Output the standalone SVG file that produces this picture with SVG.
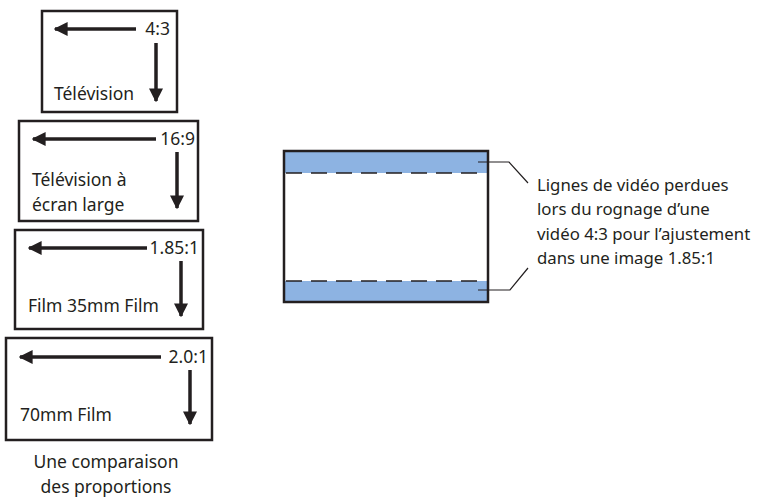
<svg xmlns="http://www.w3.org/2000/svg" width="773" height="504" viewBox="0 0 773 504">
<defs>
<marker id="ah" viewBox="0 0 10 10" refX="9" refY="5" markerWidth="4" markerHeight="4.4" orient="auto" markerUnits="strokeWidth"><path d="M0,0L10,5L0,10z" fill="#231f20"/></marker>
<style>
.box{fill:#fff;stroke:#231f20;stroke-width:2.5}
.arr{stroke:#231f20;stroke-width:3.5;fill:none;marker-end:url(#ah)}
text{font-family:"Noto Sans","Open Sans",sans-serif;font-size:17.5px;fill:#231f20}
.n{font-size:16.8px}
.r{text-anchor:end}
.band{fill:#8db3e2}
.dash{stroke:#231f20;stroke-width:1.5;stroke-dasharray:16,9}
.lead{stroke:#231f20;stroke-width:1.2;fill:none}
</style>
</defs>
<rect width="773" height="504" fill="#fff"/>
<g id="tv43">
<rect class="box" x="42" y="11" width="135" height="101"/>
<text class="r" x="170" y="35">4:3</text>
<text x="54" y="100">Télévision</text>
</g>
<g id="tv169">
<rect class="box" x="19" y="121" width="179" height="100"/>
<text class="r" x="195" y="145">16:9</text>
<text x="32" y="186">Télévision à</text>
<text x="32" y="211">écran large</text>
</g>
<g id="film185">
<rect class="box" x="15" y="230" width="188" height="99"/>
<text class="r" x="199" y="254">1.85:1</text>
<text x="28" y="312">Film 35mm Film</text>
</g>
<g id="film20">
<rect class="box" x="6" y="338" width="206" height="102"/>
<text class="r" x="208" y="363">2.0:1</text>
<text x="20" y="421">70mm Film</text>
</g>
<g id="caption">
<text x="106" y="468" text-anchor="middle">Une comparaison</text>
<text x="106" y="493" text-anchor="middle">des proportions</text>
</g>
<g id="crop">
<rect x="284" y="151" width="204" height="151" fill="#fff"/>
<rect class="band" x="284" y="151" width="204" height="22"/>
<rect class="band" x="284" y="281" width="204" height="21"/>
<line class="dash" x1="286" y1="173" x2="486" y2="173"/>
<line class="dash" x1="286" y1="281" x2="486" y2="281"/>
<rect x="284" y="151" width="204" height="151" fill="none" stroke="#231f20" stroke-width="2.5"/>
</g>
<g id="note">
<text class="n" x="537" y="191">Lignes de vidéo perdues</text>
<text class="n" x="537" y="215">lors du rognage d’une</text>
<text class="n" x="537" y="240">vidéo 4:3 pour l’ajustement</text>
<text class="n" x="537" y="264">dans une image 1.85:1</text>
</g>
<g id="connectors">
<line class="arr" x1="136" y1="29" x2="55" y2="29"/>
<line class="arr" x1="156" y1="43" x2="156" y2="101"/>
<line class="arr" x1="156" y1="139" x2="33" y2="139"/>
<line class="arr" x1="177" y1="152" x2="177" y2="208"/>
<line class="arr" x1="147" y1="248" x2="29" y2="248"/>
<line class="arr" x1="181" y1="261" x2="181" y2="316"/>
<line class="arr" x1="161" y1="357" x2="20" y2="357"/>
<line class="arr" x1="190" y1="370" x2="190" y2="424"/>
<polyline class="lead" points="478,162 509,162 528,183"/>
<polyline class="lead" points="478,290 510,290 528,268"/>
</g>
</svg>
